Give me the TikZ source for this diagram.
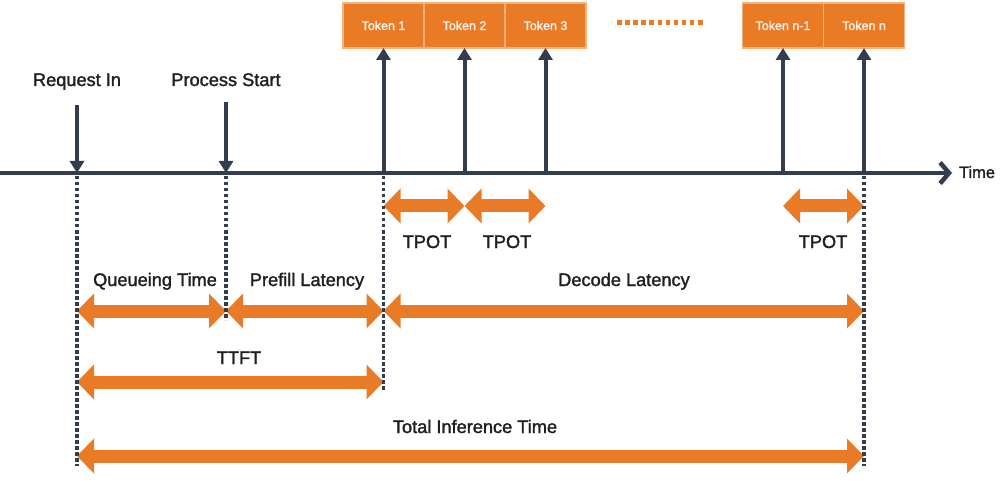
\documentclass[tikz,border=0pt]{standalone}
\usepackage{fontspec}
\setmainfont{Liberation Sans}[FakeBold=1.6]
\usetikzlibrary{arrows.meta,positioning}
\definecolor{tokorange}{HTML}{E97B26}
\definecolor{tokedge}{HTML}{F6B07A}
\definecolor{axisblue}{HTML}{333D4C}

\begin{document}
\begin{tikzpicture}[x=1pt,y=-1pt,
  lbl/.style={anchor=base, text=black!88, font=\fontsize{18.2}{20}\selectfont},
  tokbox/.style={rectangle, fill=tokorange, draw=tokedge, line width=1.2pt, outer sep=0pt,
    minimum width=81pt, minimum height=45pt, inner sep=0pt, text=white!90!tokorange,
    font=\fontsize{12.5}{14}\selectfont},
  dur/.style={tokorange, line width=13pt, {Triangle[length=17pt,width=34pt]}-{Triangle[length=17pt,width=34pt]}},
  ptr/.style={axisblue, line width=4pt, -{Triangle[length=12pt,width=14pt]}},
  guide/.style={axisblue, line width=3.5pt, dash pattern=on 3.5pt off 2.5pt}]
\useasboundingbox (0,0) rectangle (1001,481);

% tokens
\node[tokbox] (tok1) at (383.5,25.5) {Token 1};
\node[tokbox, right=0pt of tok1] (tok2) {Token 2};
\node[tokbox, right=0pt of tok2] (tok3) {Token 3};
\node[tokbox] (tokn1) at (783,25.5) {Token n-1};
\node[tokbox, right=0pt of tokn1] (tokn) {Token n};
\draw[tokorange, line width=4.5pt, dash pattern=on 4.5pt off 3.6pt] (617,22.5) -- (706,22.5);

% time axis
\coordinate (t0) at (0,173);
\coordinate (tEnd) at (952,173);
\coordinate (bot) at (0,466);
\draw[axisblue, line width=4.5pt, -{Straight Barb[length=9pt,width=21pt]}] (t0) -- (tEnd);
\node[anchor=base, text=black!88, font=\fontsize{16.5}{18}\selectfont] (timelbl) at (977,178) {Time};

\node[lbl] (reqlbl) at (77,86) {Request In};
\node[lbl] (proclbl) at (226,86) {Process Start};
\coordinate (req) at (reqlbl |- t0);
\coordinate (proc) at (proclbl |- t0);
\coordinate (tk1) at (tok1 |- t0);
\coordinate (tk2) at (tok2 |- t0);
\coordinate (tk3) at (tok3 |- t0);
\coordinate (tkn1) at (tokn1 |- t0);
\coordinate (tkn) at (tokn |- t0);

\draw[ptr, shorten <=12pt] (reqlbl.south) -- (req);
\draw[ptr, shorten <=12pt] (proclbl.south) -- (proc);
\draw[ptr] (tk1) -- (tok1.south);
\draw[ptr] (tk2) -- (tok2.south);
\draw[ptr] (tk3) -- (tok3.south);
\draw[ptr] (tkn1) -- (tokn1.south);
\draw[ptr] (tkn) -- (tokn.south);

% spans
\coordinate (rowTpot) at (0,206);
\coordinate (rowLat) at (0,311);
\coordinate (rowTtft) at (0,382);
\coordinate (rowTotal) at (0,456);
\draw[dur] (tk1 |- rowTpot) -- (tk2 |- rowTpot);
\draw[dur] (tk2 |- rowTpot) -- (tk3 |- rowTpot);
\draw[dur] (tkn1 |- rowTpot) -- (tkn |- rowTpot);
\draw[dur] (req |- rowLat) -- (proc |- rowLat);
\draw[dur] (proc |- rowLat) -- (tk1 |- rowLat);
\draw[dur] (tk1 |- rowLat) -- (tkn |- rowLat);
\draw[dur] (req |- rowTtft) -- (tk1 |- rowTtft);
\draw[dur] (req |- rowTotal) -- (tkn |- rowTotal);

\node[lbl] (tpot1) at (427,248) {TPOT};
\node[lbl] (tpot2) at (507,248) {TPOT};
\node[lbl] (tpot3) at (823,248) {TPOT};
\node[lbl] (queue) at (155,286) {Queueing Time};
\node[lbl] (prefill) at (307,286) {Prefill Latency};
\node[lbl] (decode) at (624,286) {Decode Latency};
\node[lbl] (ttft) at (239,364) {TTFT};
\node[lbl] (total) at (475,433) {Total Inference Time};

% guides
\draw[guide] ([yshift=-3pt]req) -- (req |- bot);
\draw[guide] ([yshift=-3pt]proc) -- (proc |- 0,320);
\draw[guide] ([yshift=-3pt]tk1) -- (tk1 |- 0,390);
\draw[guide] ([yshift=-3pt]tkn) -- (tkn |- bot);
\end{tikzpicture}
\end{document}
